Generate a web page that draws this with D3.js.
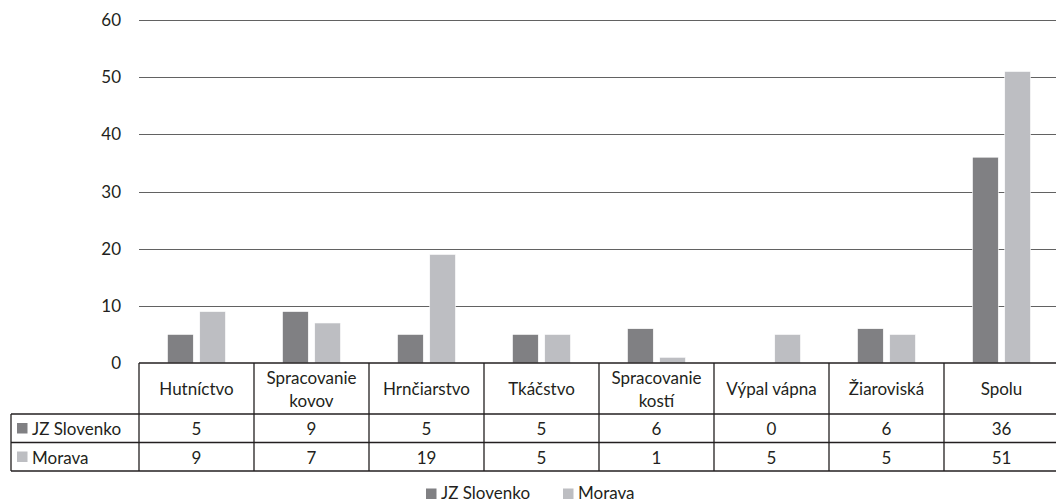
<!DOCTYPE html>
<html>
<head>
<meta charset="utf-8">
<script src="https://cdn.jsdelivr.net/npm/d3@7"></script>
<style>
  body { margin: 0; background: #fff; }
  text { font-family: Lato, "Open Sans", sans-serif; fill: #231f20; }
</style>
</head>
<body>
<div id="chart"></div>
<script>
var categories = [["Hutníctvo"], ["Spracovanie", "kovov"], ["Hrnčiarstvo"], ["Tkáčstvo"],
                  ["Spracovanie", "kostí"], ["Výpal vápna"], ["Žiaroviská"], ["Spolu"]];
var seriesNames = ["JZ Slovenko", "Morava"];
var slovenko = [5, 9, 5, 5, 6, 0, 6, 36];
var morava = [9, 7, 19, 5, 1, 5, 5, 51];
var yTicks = [0, 10, 20, 30, 40, 50, 60];
var colors = ["#808083", "#bdbec2"];

var W = 1056, H = 503;
var plotLeft = 139, plotRight = 1059, plotTop = 20, zeroY = 363;
var rowH = [51, 28.5, 28.5];
var fs = "17px";

var svg = d3.select("#chart").append("svg")
    .attr("width", W).attr("height", H);

var y = d3.scaleLinear().domain([0, 60]).range([zeroY, plotTop]);
var x = d3.scaleBand().domain(d3.range(categories.length)).range([plotLeft, plotRight]);
var inner = d3.scaleBand().domain([0, 1]).range([28.5, 86.5]).paddingInner(0.2);

// gridlines
svg.append("g").selectAll("line")
    .data(yTicks.filter(d => d > 0))
    .enter().append("line")
    .attr("x1", plotLeft).attr("x2", W)
    .attr("y1", d => Math.round(y(d)) + 0.5).attr("y2", d => Math.round(y(d)) + 0.5)
    .attr("stroke", "#3a3a3a").attr("stroke-width", 0.8);

// y labels
svg.append("g").selectAll("text")
    .data(yTicks)
    .enter().append("text")
    .attr("x", 121).attr("y", d => y(d) + 6)
    .attr("text-anchor", "end")
    .style("font-size", fs)
    .text(d => d);

// bars
var series = [slovenko, morava];
series.forEach(function(vals, s) {
    svg.append("g").selectAll("rect")
        .data(vals)
        .enter().append("rect")
        .attr("x", (d, i) => x(i) + inner(s))
        .attr("y", d => y(d))
        .attr("width", inner.bandwidth())
        .attr("height", d => zeroY - y(d))
        .attr("fill", colors[s])
        .attr("stroke", d => d > 0 ? "#fff" : "none")
        .attr("stroke-width", 0.6);
});

// table
var tbl = svg.append("g");
var y0 = zeroY, y1 = y0 + rowH[0], y2 = y1 + rowH[1], y3 = y2 + rowH[2];
var lineC = "#231f20";

function hline(x1, x2, yy) {
    tbl.append("line").attr("x1", x1).attr("x2", x2).attr("y1", yy).attr("y2", yy)
        .attr("stroke", lineC).attr("stroke-width", 1.3);
}
function vline(xx, ya, yb) {
    tbl.append("line").attr("x1", xx).attr("x2", xx).attr("y1", ya).attr("y2", yb)
        .attr("stroke", lineC).attr("stroke-width", 1.3);
}
hline(plotLeft, W, y0);
hline(11, W, y1);
hline(11, W, y2);
hline(11, W, y3);
vline(11, y1, y3);
d3.range(categories.length + 1).forEach(function(i) {
    vline(plotLeft + i * x.bandwidth(), y0, y3);
});

// header labels
categories.forEach(function(lines, i) {
    var cx = x(i) + x.bandwidth() / 2;
    var t = tbl.append("text").attr("text-anchor", "middle").style("font-size", fs);
    if (lines.length === 1) {
        t.append("tspan").attr("x", cx).attr("y", y0 + 32).text(lines[0]);
    } else {
        t.append("tspan").attr("x", cx).attr("y", y0 + 21).text(lines[0]);
        t.append("tspan").attr("x", cx).attr("y", y0 + 44).text(lines[1]);
    }
});

// rows
series.forEach(function(vals, s) {
    var ry = (s === 0 ? y1 : y2);
    tbl.append("rect").attr("x", 17).attr("y", ry + 9).attr("width", 10.5).attr("height", 10.5)
        .attr("fill", colors[s]);
    tbl.append("text").attr("x", 32).attr("y", ry + 21).style("font-size", fs)
        .text(seriesNames[s]);
    tbl.selectAll(null).data(vals).enter().append("text")
        .attr("x", (d, i) => x(i) + x.bandwidth() / 2)
        .attr("y", ry + 21)
        .attr("text-anchor", "middle")
        .style("font-size", fs)
        .text(d => d);
});

// legend
var legX = [426, 563];
seriesNames.forEach(function(name, s) {
    svg.append("rect").attr("x", legX[s]).attr("y", 488.5).attr("width", 10.5).attr("height", 10.5)
        .attr("fill", colors[s]);
    svg.append("text").attr("x", legX[s] + 15).attr("y", 499).style("font-size", fs).text(name);
});
</script>
</body>
</html>
